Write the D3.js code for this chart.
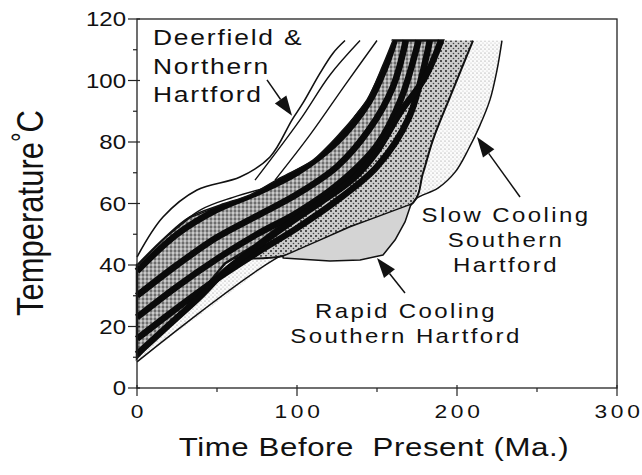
<!DOCTYPE html>
<html>
<head>
<meta charset="utf-8">
<script src="https://cdn.jsdelivr.net/npm/d3@7"></script>
<style>
  body { margin: 0; background: #fff; }
  text { font-family: "Liberation Sans", Arial, Helvetica, sans-serif; fill: #111; }
</style>
</head>
<body>
<div id="chart"></div>
<script>
// axis ticks
const xTicks = [0, 100, 200, 300];
const xMinor = [50, 150, 250];
const yTicks = [0, 20, 40, 60, 80, 100, 120];
const yMinor = [10, 30, 50, 70, 90, 110];

// [time Ma, temperature C] outlines
const slowEdge = [[0, 8.5], [87.5, 42.3], [133.1, 52.4], [171.3, 59.8], [175, 61.8], [188.1, 65],
  [198.8, 70.2], [206.9, 77.4], [214.4, 85.5], [220.6, 93.7], [225, 103.4], [228.1, 113]];
const slowHidden = [[208, 113], [195.6, 94.6], [172.5, 60.2], [91.3, 42.9], [55, 40.5], [0, 18.9]];

const mediumEdge = [[210, 113], [203.75, 105], [195.6, 94.6], [185, 80.7], [178.75, 69.9], [172.5, 60.2],
  [133.1, 52.4], [91.3, 42.9], [58.1, 42.3]];
const mediumHidden = [[48.75, 41], [101.9, 64.4], [151.9, 93.7], [176.9, 113]];

const rapidCooling = [[91.3, 42.9], [133.1, 52.4], [171.3, 59.8], [167.5, 54], [161.25, 48.1],
  [153.75, 43.25], [139.4, 41.6], [120.6, 41.3], [91.3, 42.3]];

const darkUpper = [[0, 40], [17.5, 49], [33, 55.6], [52, 59.5], [70.6, 62.8], [89.4, 68.3], [110, 74.1],
  [127, 82.9], [143.75, 93.7], [153.75, 105], [160, 113]];
const darkLower = [[191.25, 113], [185, 105.7], [177, 98.5], [164.4, 89.4], [145.6, 75.1], [133, 67.6],
  [112.5, 61.1], [92.5, 54], [73.75, 46.5], [55, 40.5], [37.5, 29.6], [17.5, 19.8], [0, 9.8]];

// thick black cooling paths
const path1 = [[0, 38], [25, 50], [50, 58], [75, 63.5], [100, 70], [125, 80], [145, 93], [155, 104], [161, 113]];
const path2 = [[0, 30], [25, 40], [50, 49], [75, 56], [100, 63], [125, 72], [145, 84], [160, 98], [168, 113]];
const path3 = [[0, 23], [25, 33], [50, 42], [75, 50], [100, 57], [125, 66], [150, 79], [165, 94], [176, 113]];
const path4 = [[0, 16], [25, 26], [50, 35.5], [75, 44], [100, 52], [125, 61], [150, 72], [170, 88], [183, 113]];
const path5 = [[0, 11], [20, 20.5], [40, 30], [55, 38], [75, 46], [95, 53.5], [115, 60.5], [135, 68],
  [150, 77], [165, 90], [180, 101], [190, 113]];

// Deerfield & Northern Hartford
const deerUpper = [[0, 42.6], [16.25, 55.6], [37.5, 64.4], [64.4, 68.6], [83.1, 75.1], [96.9, 87.2],
  [103.75, 92.7], [114.4, 102.4], [122.5, 108.9], [130, 113]];
const deerLine1 = [[73.75, 67.6], [101.9, 87.2], [120.6, 101.8], [139.4, 113]];
const deerLine2 = [[86.25, 67.6], [108.1, 82.3], [130, 98.5], [150, 113]];
const deerLine3 = [[20, 50], [40, 58], [60, 62], [80, 65]];
const deerLens = [[118, 78.5], [132, 87.5], [144, 98], [152, 109], [148, 101], [138, 90], [126, 82]];

// arrows: [from, tip]
const arrows = [
  [[81.25, 100.2], [96.9, 88.5]],
  [[239.4, 62.1], [212.5, 81.6]],
  [[167.5, 30.9], [150, 42.3]]
];

const labels = [
  { lines: ["Deerfield &", "Northern", "Hartford"], x: 153, y: 45, dy: 28.5, anchor: "start", size: 22, ls: 1.5 },
  { lines: ["Slow Cooling", "Southern", "Hartford"], x: 506, y: 222, dy: 25, anchor: "middle", size: 20, ls: 2 },
  { lines: ["Rapid Cooling", "Southern Hartford"], x: 406, y: 318, dy: 25, anchor: "middle", size: 20, ls: 2 }
];

const width = 642, height = 475;
const x = d3.scaleLinear().domain([0, 300]).range([137, 617]);
const y = d3.scaleLinear().domain([0, 120]).range([388, 19]);

const svg = d3.select("#chart").append("svg")
  .attr("width", width)
  .attr("height", height);

const defs = svg.append("defs");

function dotPattern(id, size, bg, dots) {
  const p = defs.append("pattern")
    .attr("id", id)
    .attr("patternUnits", "userSpaceOnUse")
    .attr("width", size).attr("height", size);
  p.append("rect").attr("width", size).attr("height", size).attr("fill", bg);
  dots.forEach(d => p.append("circle").attr("cx", d[0]).attr("cy", d[1]).attr("r", d[2]).attr("fill", d[3]));
}
dotPattern("sparse", 4, "#fbfbfb", [[1, 1, 0.6, "#8a8a8a"], [3, 3, 0.5, "#b0b0b0"]]);
dotPattern("medium", 5, "#cdcdcd", [[1, 1, 0.95, "#1a1a1a"], [3.5, 3.5, 0.8, "#444"]]);
dotPattern("speckle", 4, "#a8a8a8", [[1, 1, 0.8, "#f4f4f4"], [3, 3, 0.8, "#222"], [3, 1, 0.5, "#666"]]);

const line = d3.line().x(d => x(d[0])).y(d => y(d[1])).curve(d3.curveCatmullRom.alpha(0.5));
const poly = d3.line().x(d => x(d[0])).y(d => y(d[1])).curve(d3.curveLinearClosed);
const lens = d3.line().x(d => x(d[0])).y(d => y(d[1])).curve(d3.curveCatmullRomClosed.alpha(0.5));

const plot = svg.append("g");

// slow cooling envelope
plot.append("path").attr("d", poly(slowEdge.concat(slowHidden))).attr("fill", "url(#sparse)");
plot.append("path").attr("d", line(slowEdge)).attr("fill", "none").attr("stroke", "#111").attr("stroke-width", 1.5);

// medium stipple
plot.append("path").attr("d", poly(mediumEdge.concat(mediumHidden))).attr("fill", "url(#medium)");
plot.append("path").attr("d", line(mediumEdge)).attr("fill", "none").attr("stroke", "#111").attr("stroke-width", 2);

// rapid cooling
plot.append("path").attr("d", poly(rapidCooling)).attr("fill", "#d4d4d4")
  .attr("stroke", "#111").attr("stroke-width", 1.5).attr("stroke-linejoin", "round");

// dark band
plot.append("path").attr("d", poly(darkUpper.concat(darkLower))).attr("fill", "url(#speckle)")
  .attr("stroke", "#111").attr("stroke-width", 2.5);
plot.append("path").attr("d", lens(deerLens)).attr("fill", "#fff").attr("stroke", "#111").attr("stroke-width", 1.4);
[path1, path2, path3, path4, path5].forEach(p => {
  plot.append("path").attr("d", line(p)).attr("fill", "none")
    .attr("stroke", "#0a0a0a").attr("stroke-width", 6.5);
});

// Deerfield & Northern Hartford
plot.append("path").attr("d", poly(deerUpper.concat(darkUpper.slice().reverse()))).attr("fill", "#fff");
plot.append("path").attr("d", line(deerUpper)).attr("fill", "none").attr("stroke", "#111").attr("stroke-width", 1.6);
plot.append("path").attr("d", line(darkUpper)).attr("fill", "none").attr("stroke", "#111").attr("stroke-width", 1.6);
[deerLine1, deerLine2, deerLine3].forEach(p => {
  plot.append("path").attr("d", line(p)).attr("fill", "none").attr("stroke", "#111").attr("stroke-width", 1.4);
});

// frame and axes
svg.append("rect").attr("x", x(0)).attr("y", y(120))
  .attr("width", x(300) - x(0)).attr("height", y(0) - y(120))
  .attr("fill", "none").attr("stroke", "#222").attr("stroke-width", 1.3);

const axes = svg.append("g").attr("stroke", "#222").attr("stroke-width", 1.2);
yTicks.forEach(v => axes.append("line").attr("x1", x(0) - 9).attr("x2", x(0) + 3).attr("y1", y(v)).attr("y2", y(v)));
yMinor.forEach(v => axes.append("line").attr("x1", x(0) - 4).attr("x2", x(0)).attr("y1", y(v)).attr("y2", y(v)));
xTicks.forEach(v => axes.append("line").attr("x1", x(v)).attr("x2", x(v)).attr("y1", y(0) - 3).attr("y2", y(0) + 8));
xMinor.forEach(v => axes.append("line").attr("x1", x(v)).attr("x2", x(v)).attr("y1", y(0)).attr("y2", y(0) + 4));

function stretched(g, txt, px, py, size, anchor, ls) {
  return g.append("text")
    .attr("transform", `translate(${px},${py}) scale(1.2,1)`)
    .attr("text-anchor", anchor)
    .style("font-size", size + "px")
    .style("letter-spacing", ls + "px")
    .style("white-space", "pre")
    .text(txt);
}

const txt = svg.append("g");
yTicks.forEach(v => stretched(txt, String(v), x(0) - 11, y(v) + 7, 20, "end", 0));
xTicks.forEach(v => stretched(txt, String(v), x(v) + 2, 418, 19, "middle", 3));

stretched(txt, "Time Before  Present (Ma.)", 374, 456, 26, "middle", 0.5);

const yTitle = txt.append("text")
  .attr("transform", "translate(43,213) scale(1.2,1) rotate(-90)")
  .attr("text-anchor", "middle")
  .style("font-size", "31px");
yTitle.append("tspan").text("Temperature");
yTitle.append("tspan").attr("dy", -9).style("font-size", "24px").text("°");
yTitle.append("tspan").attr("dy", 9).text("C");

labels.forEach(l => {
  l.lines.forEach((s, i) => stretched(txt, s, l.x, l.y + i * l.dy, l.size, l.anchor, l.ls));
});

// arrows
arrows.forEach(a => {
  const x0 = x(a[0][0]), y0 = y(a[0][1]), x1 = x(a[1][0]), y1 = y(a[1][1]);
  const len = Math.hypot(x1 - x0, y1 - y0), ux = (x1 - x0) / len, uy = (y1 - y0) / len;
  const bx = x1 - ux * 20, by = y1 - uy * 20;
  svg.append("line").attr("x1", x0).attr("y1", y0).attr("x2", bx).attr("y2", by)
    .attr("stroke", "#111").attr("stroke-width", 1.5);
  svg.append("path")
    .attr("d", `M${x1},${y1}L${bx - uy * 7},${by + ux * 7}L${bx + uy * 7},${by - ux * 7}Z`)
    .attr("fill", "#111");
});
</script>
</body>
</html>
